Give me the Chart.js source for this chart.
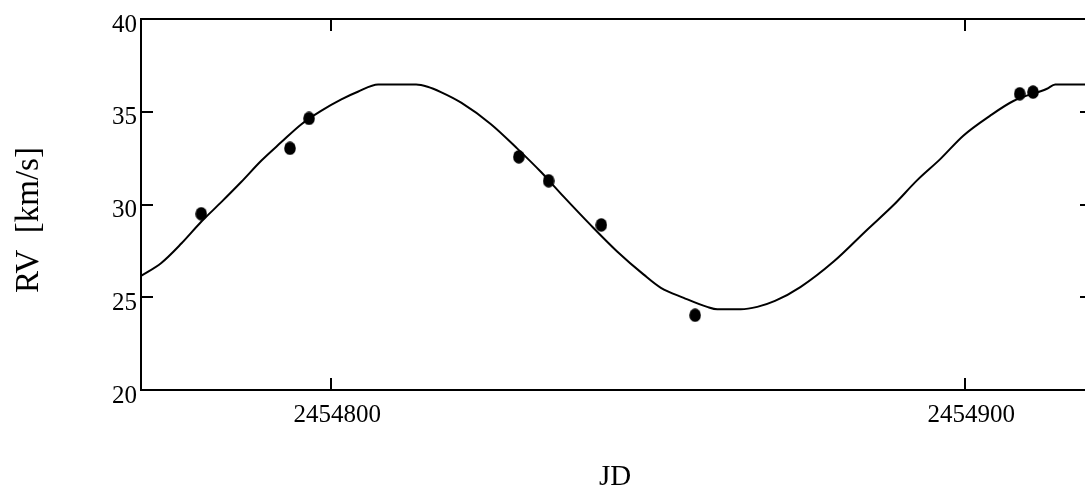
<!DOCTYPE html>
<html>
<head>
<meta charset="utf-8">
<script src="https://cdn.jsdelivr.net/npm/chart.js@4.4.0/dist/chart.umd.min.js"></script>
<style>
html,body{margin:0;padding:0;background:#fff;overflow:hidden;width:1085px;height:492px;}
#wrap{position:absolute;left:0;top:0;width:1100px;height:492px;}
</style>
</head>
<body>
<div id="wrap"><canvas id="c" width="1100" height="492"></canvas></div>
<script>
// Observed radial velocities
const obsJD = [2454779.5, 2454793.5, 2454796.5, 2454829.6, 2454834.3, 2454842.6, 2454857.4, 2454908.6, 2454910.7];
const obsRV = [29.5, 33.03, 34.64, 32.57, 31.28, 28.9, 24.03, 35.97, 36.06];

// Orbital fit curve
const curveJD = [2454770.0, 2454773.2, 2454776.4, 2454779.5, 2454782.7, 2454785.8, 2454789.0, 2454792.1, 2454795.3, 2454798.4,
                 2454801.6, 2454804.2, 2454807.4, 2454813.4, 2454815.2, 2454817.3, 2454820.5, 2454825.2, 2454829.4, 2454833.1,
                 2454836.7, 2454840.9, 2454845.1, 2454849.3, 2454852.0, 2454855.6, 2454859.3, 2454860.9, 2454864.6, 2454867.2,
                 2454870.0, 2454874.0, 2454879.3, 2454884.5, 2454888.7, 2454892.4, 2454896.1, 2454899.7, 2454903.9, 2454907.6,
                 2454912.9, 2454914.2, 2454920.0];
const curveRV = [26.15, 26.85, 27.91, 29.07, 30.14, 31.21, 32.37, 33.35, 34.33, 35.05,
                 35.67, 36.08, 36.47, 36.47, 36.35, 36.06, 35.49, 34.33, 33.0, 31.75,
                 30.41, 28.9, 27.47, 26.22, 25.51, 24.97, 24.48, 24.35, 24.35, 24.48,
                 24.8, 25.55, 26.94, 28.63, 29.97, 31.3, 32.46, 33.71, 34.78, 35.58,
                 36.24, 36.47, 36.47];

const xTicks = [2454800, 2454900];
const yTicks = [20, 25, 30, 35, 40];
const xTitle = 'JD';
const yTitle = 'RV  [km/s]';

const FONT = '"Liberation Serif", "Times New Roman", serif';

// elliptical marker
const dot = document.createElement('canvas');
dot.width = 12; dot.height = 14;
(function(){
  const g = dot.getContext('2d');
  g.fillStyle = '#000';
  g.beginPath();
  g.ellipse(6, 7, 5.8, 6.8, 0, 0, Math.PI*2);
  g.fill();
})();

const framePlugin = {
  id: 'frame',
  afterDraw(chart) {
    const ctx = chart.ctx;
    const a = chart.chartArea;
    const xs = chart.scales.x, ys = chart.scales.y;
    ctx.save();
    ctx.strokeStyle = '#000';
    ctx.lineWidth = 2;
    ctx.strokeRect(a.left, a.top, a.right - a.left, a.bottom - a.top);
    ctx.beginPath();
    const tl = 12;
    xTicks.forEach(v => {
      const p = Math.round(xs.getPixelForValue(v));
      ctx.moveTo(p, a.bottom); ctx.lineTo(p, a.bottom - tl);
      ctx.moveTo(p, a.top); ctx.lineTo(p, a.top + tl);
    });
    yTicks.forEach(v => {
      const p = Math.round(ys.getPixelForValue(v));
      ctx.moveTo(a.left, p); ctx.lineTo(a.left + tl, p);
      ctx.moveTo(a.right, p); ctx.lineTo(a.right - tl, p);
    });
    ctx.stroke();
    // axis titles
    ctx.fillStyle = '#000';
    ctx.textAlign = 'center';
    ctx.textBaseline = 'middle';
    ctx.font = '29px ' + FONT;
    ctx.fillText(xTitle, 615, 477);
    ctx.font = '33px ' + FONT;
    ctx.translate(29, 220);
    ctx.rotate(-Math.PI/2);
    ctx.fillText(yTitle, 0, 0);
    ctx.restore();
  }
};

new Chart(document.getElementById('c'), {
  type: 'scatter',
  data: {
    datasets: [
      {
        type: 'line',
        label: 'fit',
        data: curveJD.map((x, i) => ({x: x, y: curveRV[i]})),
        borderColor: '#000',
        borderWidth: 2,
        pointRadius: 0,
        fill: false,
        cubicInterpolationMode: 'monotone',
        order: 2
      },
      {
        label: 'RV',
        data: obsJD.map((x, i) => ({x: x, y: obsRV[i]})),
        pointStyle: dot,
        backgroundColor: '#000',
        borderColor: '#000',
        order: 1
      }
    ]
  },
  plugins: [framePlugin],
  options: {
    responsive: false,
    animation: false,
    events: [],
    clip: false,
    layout: { padding: { top: 16, right: 8, left: 0, bottom: 0 } },
    plugins: { legend: { display: false }, tooltip: { enabled: false } },
    scales: {
      x: {
        type: 'linear',
        min: 2454770, max: 2454920,
        afterBuildTicks: s => { s.ticks = xTicks.map(v => ({value: v})); },
        afterFit: s => { s.height = 102; },
        grid: { display: false, drawTicks: false },
        border: { display: false },
        ticks: {
          color: '#000',
          font: { family: FONT, size: 25 },
          padding: 10,
          labelOffset: 6,
          maxRotation: 0,
          callback: v => String(v)
        }
      },
      y: {
        type: 'linear',
        min: 20, max: 40,
        afterBuildTicks: s => { s.ticks = yTicks.map(v => ({value: v})); },
        afterFit: s => { s.width = 141; },
        grid: { display: false, drawTicks: false },
        border: { display: false },
        ticks: {
          color: '#000',
          font: { family: FONT, size: 25 },
          padding: 4,
          labelOffset: 6,
          callback: v => String(v)
        }
      }
    }
  }
});
</script>
</body>
</html>
